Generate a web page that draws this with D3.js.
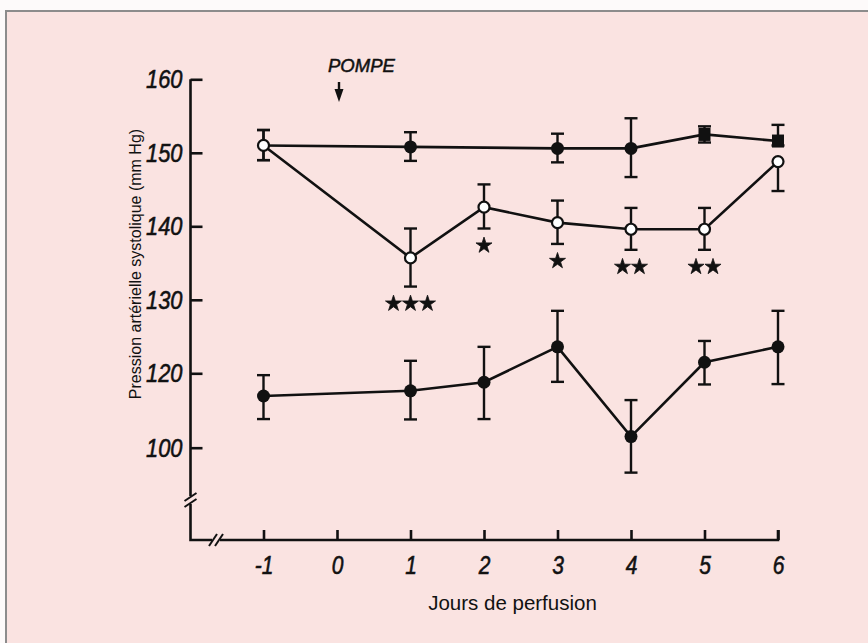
<!DOCTYPE html>
<html>
<head>
<meta charset="utf-8">
<script src="https://cdn.jsdelivr.net/npm/d3@7"></script>
<style>
  html, body { margin: 0; padding: 0; background: #fdfafa; }
  svg { display: block; }
</style>
</head>
<body>
<svg id="chart" width="868" height="643"></svg>
<script>
// ---------- data ----------
const dayTicks = [-1, 0, 1, 2, 3, 4, 5, 6];
const yTickValues = [100, 120, 130, 140, 150, 160];

// control group (filled markers, top line) – starts from shared day -1 point
const controlDays   = [-1, 1, 3, 4, 5, 6];
const controlMean   = [151, 150.8, 150.6, 150.6, 152.5, 151.6];
const controlHigh   = [153.1, 152.8, 152.6, 154.7, 153.6, 153.8];
const controlLow    = [149.0, 148.9, 148.7, 146.7, 151.4, 151.0];

// treated group (open circles)
const treatedDays   = [-1, 1, 2, 3, 4, 5, 6];
const treatedMean   = [151, 135.7, 142.6, 140.5, 139.6, 139.6, 148.8];
const treatedHigh   = [153.1, 139.7, 145.7, 143.5, 142.5, 142.5, 148.8];
const treatedLow    = [149.0, 131.8, 139.7, 137.6, 136.8, 136.8, 144.8];
const treatedStars  = ["", "***", "*", "*", "**", "**", ""];

// lower group (filled circles)
const lowerDays     = [-1, 1, 2, 3, 4, 5, 6];
const lowerMean     = [113.9, 115.3, 117.6, 123.6, 103.0, 121.5, 123.6];
const lowerHigh     = [119.5, 121.7, 123.6, 128.5, 112.8, 124.4, 128.5];
const lowerLow      = [107.7, 107.6, 107.7, 117.7, 93.3, 117.0, 117.1];

const yTitle = "Pression artérielle systolique (mm Hg)";
const xTitle = "Jours de perfusion";
const pumpLabel = "POMPE";
const pumpDay = 0;

// ---------- drawing ----------
const svg = d3.select("#chart");
const ink = "#111";
const bg = "#fae3e1";
const narrow = 0.84;

// frame
svg.append("rect").attr("x", 6).attr("y", 11).attr("width", 880).attr("height", 650)
  .attr("fill", bg).attr("stroke", "#8c8c8c").attr("stroke-width", 2);

const x = d3.scaleLinear().domain([-1, 6]).range([263.5, 778]);
const y = d3.scaleLinear().domain([100, 120, 160]).range([447.7, 373.3, 79.3]);

const axisX0 = 190.5, axisY0 = 540;

// y axis
const yAxis = d3.axisLeft(y).tickValues(yTickValues).tickSizeInner(-12).tickSizeOuter(0)
  .tickPadding(8).tickFormat(d3.format("d"));
const gy = svg.append("g").attr("transform", `translate(${axisX0},0)`).call(yAxis);
gy.select(".domain").remove();
gy.selectAll(".tick line").attr("stroke", ink).attr("stroke-width", 2.6);
gy.selectAll(".tick text").attr("fill", ink).attr("x", -8 / narrow)
  .attr("transform", `scale(${narrow},1)`)
  .attr("stroke", ink).attr("stroke-width", 0.6)
  .style("font-family", "'Liberation Sans', Arial, sans-serif")
  .style("font-style", "italic").style("font-size", "26px");

// y axis line with break
const brkY = 500;
svg.append("path").attr("d", `M${axisX0},${y(160)} V${brkY - 4} M${axisX0},${brkY + 4} V${axisY0} H${x(6)} V${axisY0 - 10}`)
  .attr("fill", "none").attr("stroke", ink).attr("stroke-width", 2.6);
[brkY - 3, brkY + 3].forEach(b => {
  svg.append("line").attr("x1", axisX0 - 6).attr("y1", b + 4).attr("x2", axisX0 + 6).attr("y2", b - 4)
    .attr("stroke", ink).attr("stroke-width", 2);
});

// x axis ticks & labels
const xAxis = d3.axisBottom(x).tickValues(dayTicks).tickSizeInner(-10).tickSizeOuter(0)
  .tickPadding(16).tickFormat(d3.format("d"));
const gx = svg.append("g").attr("transform", `translate(0,${axisY0})`).call(xAxis);
gx.select(".domain").remove();
gx.selectAll(".tick line").attr("stroke", ink).attr("stroke-width", 2.6);
gx.selectAll(".tick text").attr("fill", ink).text(d => d < 0 ? "-" + Math.abs(d) : d)
  .attr("transform", `scale(${narrow},1)`)
  .attr("stroke", ink).attr("stroke-width", 0.6)
  .style("font-family", "'Liberation Sans', Arial, sans-serif")
  .style("font-style", "italic").style("font-size", "25px");

// x axis break
const brkX = 216;
svg.append("rect").attr("x", brkX - 4).attr("y", axisY0 - 3).attr("width", 8).attr("height", 6).attr("fill", bg);
[brkX - 3, brkX + 3].forEach(b => {
  svg.append("line").attr("x1", b - 4).attr("y1", axisY0 + 6).attr("x2", b + 4).attr("y2", axisY0 - 6)
    .attr("stroke", ink).attr("stroke-width", 2);
});

// titles
svg.append("text").attr("x", 512.5).attr("y", 610).attr("text-anchor", "middle")
  .attr("fill", ink).style("font-family", "'Liberation Sans', Arial, sans-serif")
  .style("font-size", "20.5px").text(xTitle);
svg.append("text").attr("transform", `translate(141,264) rotate(-90)`).attr("text-anchor", "middle")
  .attr("fill", ink).style("font-family", "'Liberation Sans', Arial, sans-serif")
  .style("font-size", "16px").text(yTitle);

// pump annotation
svg.append("text").attr("x", 328).attr("y", 72).attr("fill", ink)
  .attr("stroke", ink).attr("stroke-width", 0.5)
  .style("font-family", "'Liberation Sans', Arial, sans-serif").style("font-style", "italic")
  .style("font-size", "18.5px").text(pumpLabel);
const ax = x(pumpDay) + 2;
svg.append("line").attr("x1", ax).attr("y1", 82).attr("x2", ax).attr("y2", 92)
  .attr("stroke", ink).attr("stroke-width", 2.4);
svg.append("path").attr("d", `M${ax - 4.5},89 L${ax + 4.5},89 L${ax},102 Z`).attr("fill", ink);

// helpers
function drawSeries(days, mean, low, high) {
  const pts = days.map((d, i) => ({ d, m: mean[i], lo: low[i], hi: high[i], i }));
  const line = d3.line().x(p => x(p.d)).y(p => y(p.m));
  svg.append("path").datum(pts).attr("d", line).attr("fill", "none")
    .attr("stroke", ink).attr("stroke-width", 2.6);
  const eb = svg.append("g").attr("stroke", ink).attr("stroke-width", 2.4);
  pts.forEach(p => {
    const cx = x(p.d);
    if (p.hi > p.m) {
      eb.append("line").attr("x1", cx).attr("x2", cx).attr("y1", y(p.m)).attr("y2", y(p.hi));
      eb.append("line").attr("x1", cx - 6.5).attr("x2", cx + 6.5).attr("y1", y(p.hi)).attr("y2", y(p.hi));
    }
    if (p.lo < p.m) {
      eb.append("line").attr("x1", cx).attr("x2", cx).attr("y1", y(p.m)).attr("y2", y(p.lo));
      eb.append("line").attr("x1", cx - 6.5).attr("x2", cx + 6.5).attr("y1", y(p.lo)).attr("y2", y(p.lo));
    }
  });
  return pts;
}

// control series
const cPts = drawSeries(controlDays, controlMean, controlLow, controlHigh);
cPts.slice(1).forEach(p => {
  if (p.d >= 5) {
    svg.append("rect").attr("x", x(p.d) - 6).attr("y", y(p.m) - 6.5).attr("width", 12).attr("height", 13).attr("fill", ink);
  } else {
    svg.append("circle").attr("cx", x(p.d)).attr("cy", y(p.m)).attr("r", 6.5).attr("fill", ink);
  }
});

// treated series
const tPts = drawSeries(treatedDays, treatedMean, treatedLow, treatedHigh);
tPts.forEach(p => {
  svg.append("circle").attr("cx", x(p.d)).attr("cy", y(p.m)).attr("r", 5.5)
    .attr("fill", "#fff").attr("stroke", ink).attr("stroke-width", 2.2);
});
// significance stars
const star = d3.symbol(d3.symbolStar).size(80);
tPts.forEach((p, i) => {
  const n = treatedStars[i].length;
  for (let k = 0; k < n; k++) {
    const sx = x(p.d) + (k - (n - 1) / 2) * 17;
    const sy = y(p.lo) + 17;
    svg.append("path").attr("d", star()).attr("transform", `translate(${sx},${sy})`)
      .attr("fill", ink).attr("stroke", ink).attr("stroke-width", 0.8).attr("stroke-linejoin", "round");
  }
});

// lower series
const lPts = drawSeries(lowerDays, lowerMean, lowerLow, lowerHigh);
lPts.forEach(p => {
  svg.append("circle").attr("cx", x(p.d)).attr("cy", y(p.m)).attr("r", 6.5).attr("fill", ink);
});
</script>
</body>
</html>
